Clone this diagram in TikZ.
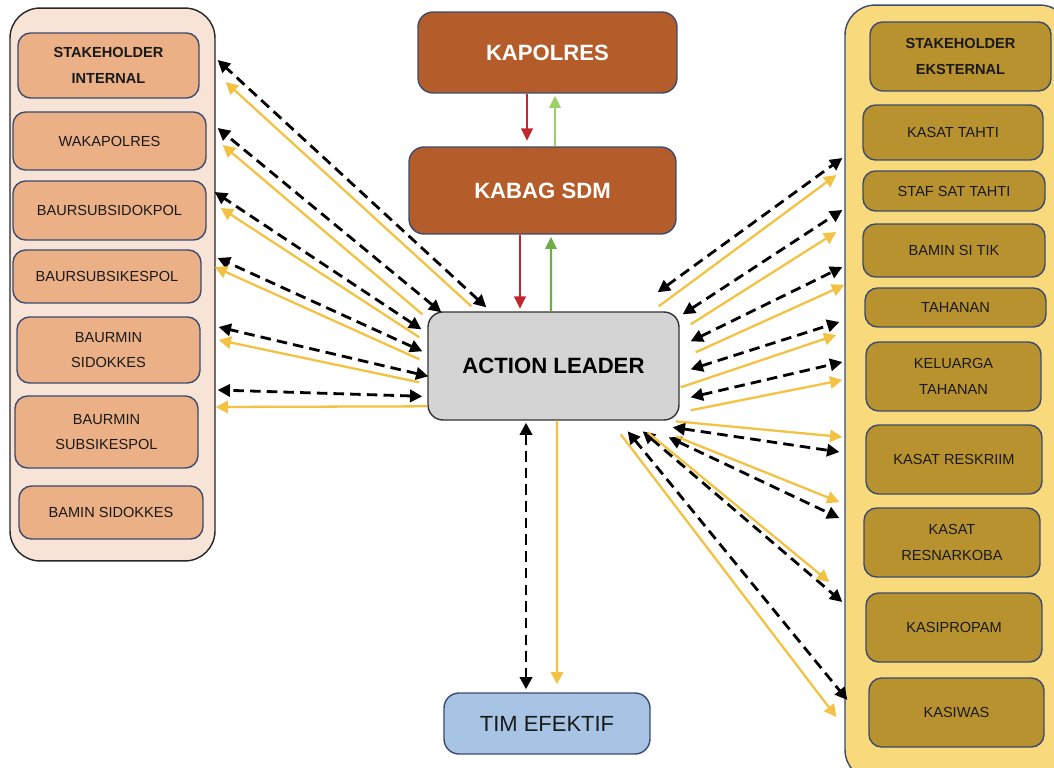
\documentclass[tikz,border=0pt]{standalone}
\usepackage{fontspec}
\setmainfont{Liberation Sans}
\usetikzlibrary{arrows.meta,calc}

\definecolor{navy}{HTML}{3B4A6E}
\definecolor{peachbg}{HTML}{F7E4D7}
\definecolor{peach}{HTML}{EBB085}
\definecolor{rust}{HTML}{B55D2A}
\definecolor{greybox}{HTML}{D4D4D4}
\definecolor{skyblue}{HTML}{A8C4E4}
\definecolor{sandbg}{HTML}{F8DA7C}
\definecolor{gold}{HTML}{B8922F}
\definecolor{ylw}{HTML}{F4C242}
\definecolor{darkred}{HTML}{C1272D}
\definecolor{ltgreen}{HTML}{9BD164}
\definecolor{dkgreen}{HTML}{70AD47}

\begin{document}
\begin{tikzpicture}[x=0.02cm, y=-0.02cm,
    panel/.style={draw=black!85, line width=0.8pt, rounded corners=0.6cm},
    smallbox/.style={draw=navy, line width=0.8pt, rounded corners=0.25cm, align=center,
        text=black!90, font=\fontsize{8.3}{14.7}\selectfont},
    lbox/.style={smallbox, fill=peach},
    rbox/.style={smallbox, fill=gold},
    headbox/.style={font=\bfseries\fontsize{8.3}{14.7}\selectfont},
    bigbox/.style={draw=navy, line width=0.8pt, rounded corners=0.3cm,
        font=\bfseries\fontsize{12.6}{15}\selectfont},
    dlink/.style={draw=black, line width=1.6pt, dash pattern=on 6pt off 3.5pt,
        {Triangle[length=7pt,width=7pt]}-{Triangle[length=7pt,width=7pt]}},
    ylink/.style={draw=ylw, line width=1.3pt, -{Triangle[length=7pt,width=7pt]}},
    vlink/.style={line width=1.4pt, -{Triangle[length=7pt,width=6.5pt]}}]

    \useasboundingbox (0,0) rectangle (1054,767);
    \clip (0,0) rectangle (1054,767);

    % stakeholder internal
    \node[panel, fill=peachbg, minimum width=4.1cm, minimum height=11.06cm] (lpanel) at (112.5,284.5) {};
    \node[lbox, headbox, minimum width=3.62cm, minimum height=1.3cm] (si) at (108.5,65.5) {STAKEHOLDER\\INTERNAL};
    \node[lbox, minimum width=3.86cm, minimum height=1.16cm] (wk) at (109.5,141) {WAKAPOLRES};
    \node[lbox, minimum width=3.86cm, minimum height=1.18cm] (bsd) at (109.5,210.5) {BAURSUBSIDOKPOL};
    \node[lbox, minimum width=3.76cm, minimum height=1.06cm] (bsk) at (107,276.5) {BAURSUBSIKESPOL};
    \node[lbox, minimum width=3.66cm, minimum height=1.32cm] (bms) at (108.5,350) {BAURMIN\\SIDOKKES};
    \node[lbox, minimum width=3.66cm, minimum height=1.44cm] (bmk) at (106.5,432) {BAURMIN\\SUBSIKESPOL};
    \node[lbox, minimum width=3.68cm, minimum height=1.06cm] (bam) at (111,512.5) {BAMIN SIDOKKES};

    % stakeholder eksternal
    \node[panel, draw=navy, fill=sandbg, minimum width=4.5cm, minimum height=15.5cm] (rpanel) at (957.5,392.5) {};
    \node[rbox, headbox, minimum width=3.62cm, minimum height=1.38cm] (se) at (960.5,56.5) {STAKEHOLDER\\EKSTERNAL};
    \node[rbox, minimum width=3.6cm, minimum height=1.1cm] (kt) at (953,132.5) {KASAT TAHTI};
    \node[rbox, minimum width=3.64cm, minimum height=0.8cm] (sst) at (954,191) {STAF SAT TAHTI};
    \node[rbox, minimum width=3.64cm, minimum height=1.06cm] (bst) at (954,250.5) {BAMIN SI TIK};
    \node[rbox, minimum width=3.62cm, minimum height=0.78cm] (th) at (955.5,307.5) {TAHANAN};
    \node[rbox, minimum width=3.5cm, minimum height=1.38cm] (kth) at (953.5,376.5) {KELUARGA\\TAHANAN};
    \node[rbox, minimum width=3.52cm, minimum height=1.38cm] (kr) at (954,459.5) {KASAT RESKRIIM};
    \node[rbox, minimum width=3.52cm, minimum height=1.38cm] (kn) at (952,542.5) {KASAT\\RESNARKOBA};
    \node[rbox, minimum width=3.52cm, minimum height=1.38cm] (kp) at (954,627.5) {KASIPROPAM};
    \node[rbox, minimum width=3.5cm, minimum height=1.38cm] (kw) at (956.5,712.5) {KASIWAS};

    % chain of command
    \node[bigbox, fill=rust, text=white, minimum width=5.18cm, minimum height=1.62cm] (kap) at (547.5,52.5) {KAPOLRES};
    \node[bigbox, fill=rust, text=white, minimum width=5.34cm, minimum height=1.74cm] (kab) at (542.5,190.5) {KABAG SDM};
    \node[bigbox, draw=black!80, fill=greybox, text=black, minimum width=5.02cm, minimum height=2.16cm] (al) at (553.5,366) {ACTION LEADER};
    \node[bigbox, fill=skyblue, text=black!90, font=\fontsize{12.5}{15}\selectfont,
        minimum width=4.12cm, minimum height=1.22cm] (tim) at (547,723.5) {TIM EFEKTIF};

    \draw[vlink, darkred] ([shift={(-20.5,0)}]kap.south) -- ++(0,47);
    \draw[vlink, ltgreen] ([shift={(12.5,0)}]kab.north) -- ([shift={(7.5,2)}]kap.south);
    \draw[vlink, darkred] ([shift={(-22.5,0)}]kab.south) -- ++(0,74);
    \draw[vlink, dkgreen] ([shift={(-2.5,0)}]al.north) -- ([shift={(8.5,2)}]kab.south);

    % action leader <-> tim efektif
    \draw[dlink] ([shift={(-27.5,2)}]al.south) -- ([shift={(-21,-3)}]tim.north);
    \draw[ylink] ([shift={(3.5,0)}]al.south) -- ([shift={(10,-8)}]tim.north);

    % internal side
    \foreach \sx/\sy/\ey/\ex in {59/-4/60/2, 14/1/128/2, -6/18/192/-1, -5/40/258/2, 1/65/327/3, -5/85/390/2}
        \draw[dlink] ([shift={(\sx,\sy)}]al.north west) -- ($(lpanel.east |- 0,\ey)+(\ex,0)$);
    \foreach \sx/\sy/\ey/\ex in {44/-5/82/10, -5/3/145/7, -8/26/208/5, -8/48/267/-1, -8/71/340/3, 0/95/407/0}
        \draw[ylink] ([shift={(\sx,\sy)}]al.north west) -- ($(lpanel.east |- 0,\ey)+(\ex,0)$);

    % external side
    \foreach \sx/\sy/\ey/\ex in {-22/-19/158/-2, 3/3/210/-2, 11/30/267/-2, 11/58/322/-5, 11/86/362/-2,
        -7/116/452/-5, -11/126/518/-5, -37/120/602/-2, -52/120/700/3}
        \draw[dlink] ([shift={(\sx,\sy)}]al.north east) -- ($(rpanel.west |- 0,\ey)+(\ex,0)$);
    \foreach \sx/\sy/\ey/\ex in {-21/-5/175/-8, 11/13/232/-8, 16/41/285/0, 1/76/335/-8, 11/99/380/-2,
        -4/110/437/-2, -4/125/502/-5, -32/121/582/-15, -59/123/717/-8}
        \draw[ylink] ([shift={(\sx,\sy)}]al.north east) -- ($(rpanel.west |- 0,\ey)+(\ex,0)$);

\end{tikzpicture}
\end{document}
